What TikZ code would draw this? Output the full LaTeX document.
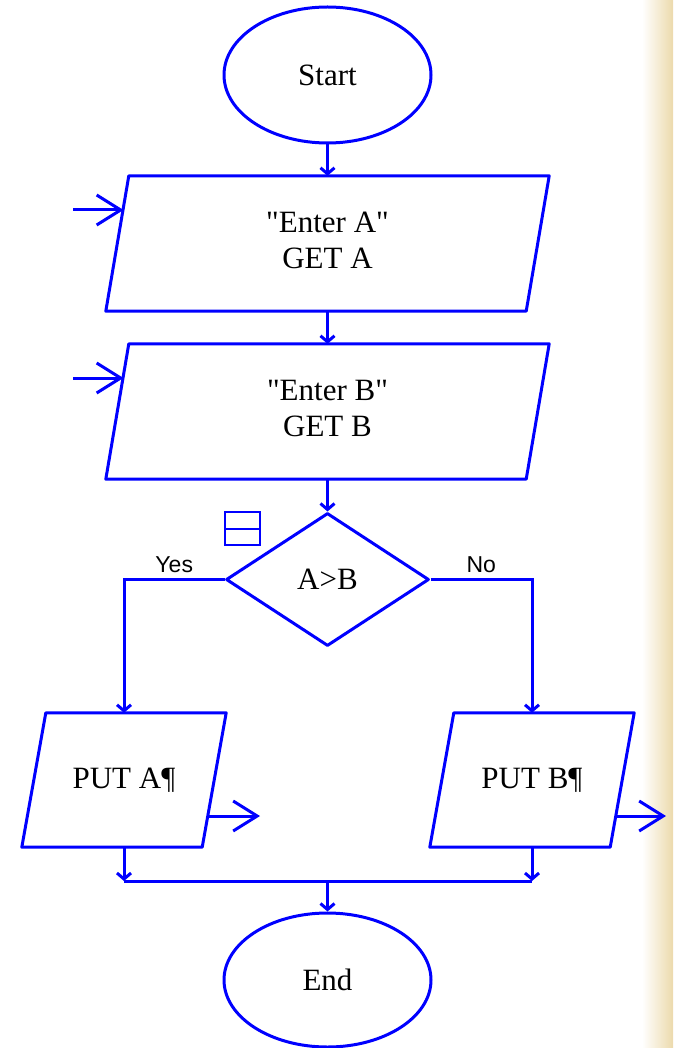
\documentclass[tikz,border=0pt]{standalone}
\usepackage{fontspec}
\setmainfont{Liberation Serif}[Ligatures=TeXOff]
\newfontfamily\lblfont{Liberation Sans}
\usetikzlibrary{arrows.meta,shapes.geometric}
\definecolor{fcblue}{RGB}{0,0,255}
\definecolor{edgebeige}{RGB}{236,218,172}
\newcommand\drawpara[2]{\draw[fc] ([xshift=#2]#1.north west) -- ([xshift=#2]#1.north east) -- ([xshift=-#2]#1.south east) -- ([xshift=-#2]#1.south west) -- cycle;}
\tikzset{
  fc/.style={draw=fcblue, line width=3pt, line join=round},
  flow/.style={draw=fcblue, line width=3pt, -{Straight Barb[length=6pt,width=14pt]}},
  ioarrow/.style={draw=fcblue, line width=3pt, -{Straight Barb[length=24pt,width=30pt]}},
  txt/.style={font=\fontsize{31}{36}\selectfont, align=center, text=black},
  lbl/.style={font=\lblfont\fontsize{23}{26}\selectfont, text=black, inner sep=1pt},
  iobox/.style={inner sep=0pt, minimum height=135pt},
}
\begin{document}
\begin{tikzpicture}[x=1pt,y=-1pt]
\useasboundingbox (0,0) rectangle (673,1048);
\fill[white] (0,0) rectangle (673,1048);
\shade[left color=white, right color=edgebeige] (642,0) rectangle (673,1048);

% nodes
\node[ellipse, fc, minimum width=207pt, minimum height=136pt, inner sep=0pt, txt] (start) at (327.5,75) {Start};
\node[iobox, minimum width=420pt, label={[txt, yshift=3pt]center:{"Enter A"\\GET A}}] (in1) at (327.5,243.5) {};
\drawpara{in1}{11.5pt}
\node[iobox, minimum width=420pt, label={[txt, yshift=3pt]center:{"Enter B"\\GET B}}] (in2) at (327.5,411.5) {};
\drawpara{in2}{11.5pt}
\node[diamond, fc, minimum width=203pt, minimum height=133pt, inner sep=0pt, txt] (dec) at (327.5,579.5) {A>B};
\node[draw=fcblue, line width=2pt, minimum width=35pt, minimum height=33pt, inner sep=0pt] (icon) at (242.5,528.5) {};
\draw[draw=fcblue, line width=2pt] (icon.west) -- (icon.east);
\node[iobox, minimum width=180pt, minimum height=134pt, txt] (out1) at (124,780) {PUT A¶};
\drawpara{out1}{12pt}
\node[iobox, minimum width=180pt, minimum height=134pt, txt] (out2) at (532,780) {PUT B¶};
\drawpara{out2}{12pt}
\node[ellipse, fc, minimum width=207pt, minimum height=134pt, inner sep=0pt, txt] (end) at (327.5,980) {End};

% coordinates
\coordinate (a1) at (73,210);
\coordinate (a1e) at (123.5,210);
\coordinate (a2) at (73,378);
\coordinate (a2e) at (123.5,378);
\coordinate (o1) at (207.6,816);
\coordinate (o1e) at (260,816);
\coordinate (o2) at (615.6,816);
\coordinate (o2e) at (666,816);
\coordinate (j1) at (124,881);
\coordinate (j2) at (532,881);
\coordinate (jm) at (327.5,881);

% connectors
\draw[flow] (start.south) -- (in1.north);
\draw[flow] (in1.south) -- (in2.north);
\draw[flow] (in2.south) -- (dec.north);
\draw[flow] (dec.west) -| (out1.north) node[pos=0.25, above=4pt, lbl] {Yes};
\draw[flow] (dec.east) -| (out2.north) node[pos=0.25, above=4pt, lbl] {No};
\draw[flow] (out1.south) -- (j1);
\draw[flow] (out2.south) -- (j2);
\draw[fc] (j1) -- (j2);
\draw[flow] (jm) -- (end.north);
\draw[ioarrow] (a1) -- (a1e);
\draw[ioarrow] (a2) -- (a2e);
\draw[ioarrow] (o1) -- (o1e);
\draw[ioarrow] (o2) -- (o2e);
\end{tikzpicture}
\end{document}
